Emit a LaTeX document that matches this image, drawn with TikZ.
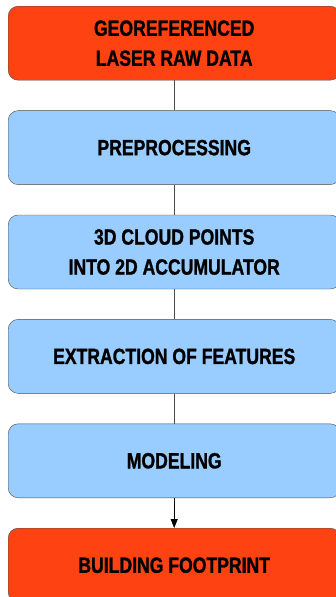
\documentclass[tikz,border=0pt]{standalone}
\usepackage{fontspec}
\setmainfont{Liberation Sans}[FakeStretch=0.8,BoldFeatures={FakeBold=1.2}]
\usepackage{xcolor}
\usepackage{tikz}
\usetikzlibrary{shapes,arrows,positioning,calc,arrows.meta}
\definecolor{stepred}{HTML}{FF4212}
\definecolor{stepblue}{HTML}{99CCFF}
\definecolor{stepedge}{HTML}{4A4A4A}

\begin{document}
\begin{tikzpicture}[x=1pt,y=1pt,
  box/.style={draw=stepedge, rounded corners=10pt, minimum width=332pt, minimum height=74pt, inner sep=0pt, align=center, font=\fontsize{22}{30}\selectfont\bfseries},
  endbox/.style={box, fill=stepred},
  procbox/.style={box, fill=stepblue},
  node distance=30pt]
\useasboundingbox (0,0) rectangle (335,-597);
\node[endbox, anchor=north west] (raw) at (8,-6) {GEOREFERENCED\\LASER RAW DATA};
\node[procbox, below=of raw] (pre) {PREPROCESSING};
\node[procbox, below=of pre] (acc) {3D CLOUD POINTS\\INTO 2D ACCUMULATOR};
\node[procbox, below=of acc] (feat) {EXTRACTION OF FEATURES};
\node[procbox, below=of feat] (model) {MODELING};
\node[endbox, below=of model] (foot) {BUILDING FOOTPRINT};
\draw[stepedge] (raw) -- (pre);
\draw[stepedge] (pre) -- (acc);
\draw[stepedge] (acc) -- (feat);
\draw[stepedge] (feat) -- (model);
\draw[-{Triangle[width=7pt,length=9pt]}] (model) -- (foot);
\end{tikzpicture}
\end{document}
